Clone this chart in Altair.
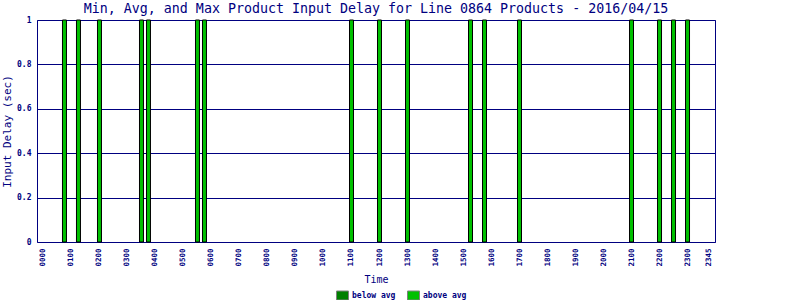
import altair as alt
import pandas as pd

NAVY = "#000080"
FONT = "DejaVu Sans Mono"

# 15-minute time slots shown on the x axis (category labels)
hours = ["00", "01", "02", "03", "04", "05", "06", "07", "08", "09", "10", "11",
         "12", "13", "14", "15", "16", "17", "18", "19", "20", "21", "22", "23"]
quarters = ["00", "15", "30", "45"]
slots = [h + q for h in hours for q in quarters]
tick_labels = [h + "00" for h in hours] + ["2345"]

delay_times = ["0045", "0115", "0200", "0330", "0345", "0530", "0545",
               "1100", "1200", "1300", "1515", "1545", "1700",
               "2100", "2200", "2230", "2300"]
delay_values = [1, 1, 1, 1, 1, 1, 1, 1, 1, 1, 1, 1, 1, 1, 1, 1, 1]
delay_class = ["above avg"] * len(delay_times)

legend_names = ["below avg", "above avg"]
legend_colors = ["#008000", "#00C000"]
y_ticks = [0, 0.2, 0.4, 0.6, 0.8, 1]

df = pd.DataFrame({"Time": delay_times, "Delay": delay_values, "Class": delay_class})

chart = alt.Chart(df).mark_bar(stroke="black", strokeWidth=1).encode(
    x=alt.X("Time:N",
            scale=alt.Scale(domain=slots, paddingInner=0.43, paddingOuter=0.64),
            axis=alt.Axis(values=tick_labels, labelAngle=270, labelAlign="right",
                          labelBaseline="middle", labelPadding=6, ticks=False,
                          domain=False, labelFontSize=7.5, labelColor=NAVY,
                          labelFont=FONT, labelFontWeight="bold",
                          labelOverlap=False, grid=False,
                          title="Time", titleFont=FONT, titleFontSize=10,
                          titleColor=NAVY, titleFontWeight="normal",
                          titleBaseline="alphabetic", titleY=40)),
    y=alt.Y("Delay:Q",
            scale=alt.Scale(domain=[0, 1], nice=False),
            axis=alt.Axis(values=y_ticks, format="~g", ticks=False, domain=False,
                          labelPadding=6, labelFontSize=8, labelColor=NAVY,
                          labelFont=FONT, labelFontWeight="bold",
                          grid=True, gridColor=NAVY, gridWidth=1,
                          gridOpacity=1,
                          title="Input Delay (sec)", titleFont=FONT, titleFontSize=11,
                          titleColor=NAVY, titleFontWeight="normal",
                          titleAngle=270, titleBaseline="middle", titleAlign="center",
                          titleX=-30, titleY=111)),
    color=alt.Color("Class:N",
                    scale=alt.Scale(domain=legend_names, range=legend_colors),
                    legend=alt.Legend(title=None, orient="none", direction="horizontal",
                                      legendX=299, legendY=269,
                                      symbolType="M-1,-0.75H1V0.75H-1Z",
                                      symbolSize=144, symbolStrokeColor="#808080",
                                      symbolStrokeWidth=1, symbolOpacity=1,
                                      labelFont=FONT, labelFontSize=8,
                                      labelFontWeight="bold",
                                      labelColor=NAVY, labelOffset=3,
                                      columnPadding=9, padding=0)),
).properties(
    width=678,
    height=222,
    background="white",
    autosize=alt.AutoSizeParams(type="none"),
    padding={"left": 37, "top": 20, "right": 85, "bottom": 58},
    title=alt.TitleParams(
        "Min, Avg, and Max Product Input Delay for Line 0864 Products - 2016/04/15",
        font=FONT, fontSize=13.3, fontWeight="normal", color=NAVY,
        anchor="middle", offset=1),
).configure_view(
    stroke=NAVY, strokeWidth=1, fill="white"
)

chart.save("out.html", embed_options={"renderer": "svg", "actions": False})
